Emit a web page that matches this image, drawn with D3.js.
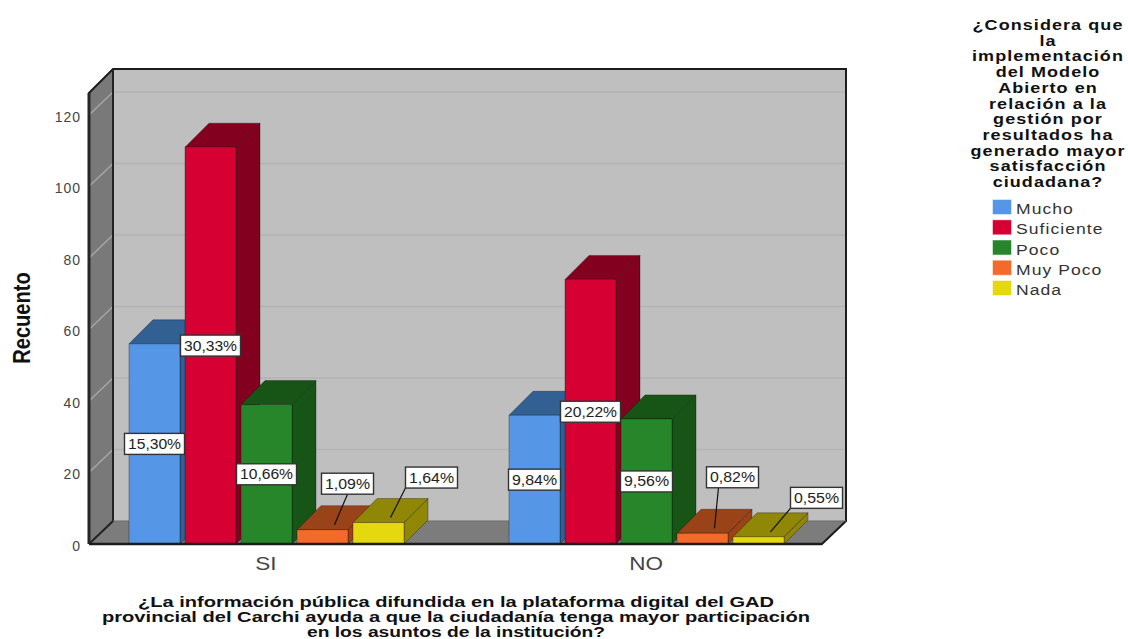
<!DOCTYPE html>
<html><head><meta charset="utf-8">
<script src="https://cdn.jsdelivr.net/npm/d3@7/dist/d3.min.js"></script>
<style>html,body{margin:0;background:#fff}svg{display:block}text{font-family:"Liberation Sans",Arial,sans-serif;fill:#111}</style>
</head><body><svg id="c" width="1128" height="639"></svg>
<script>
const categories=["SI","NO"];
const series=["Mucho","Suficiente","Poco","Muy Poco","Nada"];
const colors=["#5596E6","#D60032","#28862A","#F46A2A","#E5D80E"];
const topColors=["#326092","#84001F","#165516","#9A4318","#8F8705"];
const siValues=[56,111,39,4,6];
const noValues=[36,74,35,3,2];
const siLabels=["15,30%","30,33%","10,66%","1,09%","1,64%"];
const noLabels=["9,84%","20,22%","9,56%","0,82%","0,55%"];
const yTicks=[0,20,40,60,80,100,120];
const legendTitle=["¿Considera que","la","implementación","del Modelo","Abierto en","relación a la","gestión por","resultados ha","generado mayor","satisfacción","ciudadana?"];
const xTitle=["¿La información pública difundida en la plataforma digital del GAD","provincial del Carchi ayuda a que la ciudadanía tenga mayor participación","en los asuntos de la institución?"];
// callouts on short bars: label offset from the bar's top-face centre, and where on the label's bottom edge the leader starts
const calloutOffsets={"SI|Muy Poco":[13,-34,.5],"SI|Nada":[41,-33,0],"NO|Muy Poco":[18,-44,.23],"NO|Nada":[46,-27,0]};

const svg=d3.select("#c");
const depth=24, floorRise=23;
const y=d3.scaleLinear().domain([0,120]).range([544,115]);
const x0=d3.scaleBand().domain(categories).range([76,836]);
const x1=d3.scaleBand().domain(series).range([-137,143]);
const color=d3.scaleOrdinal(series,colors), topColor=d3.scaleOrdinal(series,topColors);
const barW=51;
const L=89,R=822,B=y(0);
const poly=(pts,fill)=>svg.append("polygon").attr("points",pts.map(p=>p.join(",")).join(" ")).attr("fill",fill);

// walls
const topBack=69;
poly([[L+depth,topBack],[R+depth,topBack],[R+depth,B-floorRise],[L+depth,B-floorRise]],"#BFBFBF");
poly([[L,topBack+depth],[L+depth,topBack],[L+depth,B-floorRise],[L,B]],"#797979");
poly([[L,B],[L+depth,B-floorRise],[R+depth,B-floorRise],[R,B]],"#7C7C7C");
// gridlines
yTicks.slice(1).forEach(t=>{
  svg.append("line").attr("x1",L+depth).attr("x2",R+depth).attr("y1",y(t)-floorRise).attr("y2",y(t)-floorRise).attr("stroke","#B3B3B3").attr("stroke-width",1.5);
  svg.append("line").attr("x1",L).attr("x2",L+depth).attr("y1",y(t)).attr("y2",y(t)-floorRise).attr("stroke","#A6A6A6").attr("stroke-width",1.5);
});
// frame
const frame=(pts,w,c)=>svg.append("polyline").attr("points",pts.map(p=>p.join(",")).join(" ")).attr("fill","none").attr("stroke",c||"#1c1c1c").attr("stroke-width",w);
frame([[L,B],[L,topBack+depth],[L+depth,topBack],[R+depth,topBack],[R+depth,B-floorRise],[R,B],[L,B]],2);
frame([[L,B],[L,topBack+depth]],3,"#262626");
frame([[L+depth,topBack],[L+depth,B-floorRise],[L,B]],2,"#222");
frame([[L+depth,B-floorRise],[R+depth,B-floorRise]],1,"#6a6a6a");

// y axis labels
const yAxis=d3.axisLeft(y).tickValues(yTicks).tickSize(0).tickPadding(8).tickFormat(d3.format("d"));
const ga=svg.append("g").attr("transform",`translate(${L},0)`).call(yAxis);
ga.select(".domain").remove();
ga.selectAll("line").remove();
ga.selectAll("text").attr("font-size",14).style("fill","#444").style("letter-spacing","1px").attr("dy","0.46em");

// bars
const rows=[];
categories.forEach((c,ci)=>series.forEach((s,si)=>rows.push({c,s,v:(ci?noValues:siValues)[si],lab:(ci?noLabels:siLabels)[si]})));
rows.forEach(d=>{d.x=x0(d.c)+x0.bandwidth()/2+x1(d.s);d.yt=y(d.v);});
rows.forEach(d=>{
  const g=svg.append("g");
  const o=[[[[d.x+barW,d.yt],[d.x+barW+depth,d.yt-depth],[d.x+barW+depth,B-depth],[d.x+barW,B]],topColor(d.s)],
           [[[d.x,d.yt],[d.x+depth,d.yt-depth],[d.x+barW+depth,d.yt-depth],[d.x+barW,d.yt]],topColor(d.s)],
           [[[d.x,d.yt],[d.x+barW,d.yt],[d.x+barW,B],[d.x,B]],color(d.s)]];
  o.forEach(p=>g.append("polygon").attr("points",p[0].map(q=>q.join(",")).join(" ")).attr("fill",p[1]).attr("stroke","#000").attr("stroke-opacity",.3).attr("stroke-width",1));
});
frame([[L,B],[R,B]],2.5,"#1c1c1c");

// data labels
rows.forEach(d=>{
  const off=calloutOffsets[d.c+"|"+d.s];
  const cx0=d.x+barW/2, face=[cx0+depth/2,d.yt-depth/2];
  const w=d.lab.length>5?60:52,h=21;
  let cx,cy;
  if(off){
    cx=face[0]+off[0];cy=face[1]+off[1];
    svg.append("line").attr("x1",cx-w/2+w*off[2]).attr("y1",cy+h/2).attr("x2",face[0]).attr("y2",face[1]+7).attr("stroke","#111").attr("stroke-width",1.2);
  } else {cx=cx0;cy=(d.yt+B)/2;}
  svg.append("rect").attr("x",cx-w/2).attr("y",cy-h/2).attr("width",w).attr("height",h).attr("fill","#fff").attr("stroke","#333").attr("stroke-width",1.4);
  svg.append("text").attr("x",cx).attr("y",cy+5).attr("text-anchor","middle").attr("font-size",14).attr("textLength",w-7).attr("lengthAdjust","spacingAndGlyphs").style("fill","#222").text(d.lab);
});

// category labels
categories.forEach(c=>svg.append("text").attr("transform",`translate(${x0(c)+x0.bandwidth()/2},570) scale(1.25,1)`).attr("text-anchor","middle").attr("font-size",18).style("fill","#444").text(c));

// x title
const xw=[636,708,298];
xTitle.forEach((t,i)=>svg.append("text").attr("x",456).attr("y",607+i*15).attr("text-anchor","middle").attr("font-size",14.5).attr("font-weight","bold").attr("textLength",xw[i]).attr("lengthAdjust","spacingAndGlyphs").text(t));

// y title
svg.append("text").attr("transform","translate(30,318) rotate(-90) scale(1.06,1.3)").attr("text-anchor","middle").attr("font-size",19).attr("font-weight","bold").text("Recuento");

// legend
legendTitle.forEach((t,i)=>svg.append("text").attr("transform",`translate(1048,${30+i*15.7}) scale(1.2,1)`).attr("text-anchor","middle").attr("font-size",15).attr("font-weight","bold").style("letter-spacing","0.9px").text(t));
const ly=d3.scalePoint().domain(series).range([208,289]);
series.forEach(s=>{
  svg.append("rect").attr("x",993).attr("y",ly(s)-8).attr("width",18).attr("height",14).attr("fill",color(s)).attr("stroke",color(s)).attr("stroke-opacity",.5);
  svg.append("text").attr("transform",`translate(1016,${ly(s)+6}) scale(1.17,1)`).attr("font-size",15).style("letter-spacing","0.9px").style("fill","#333").text(s);
});
</script></body></html>
